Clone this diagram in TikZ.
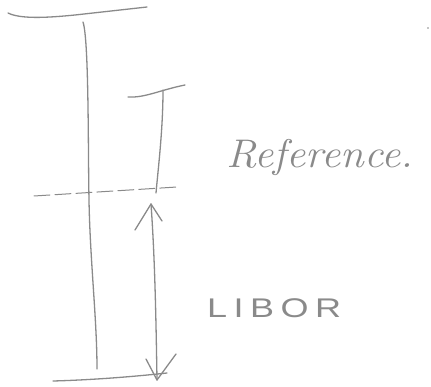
\documentclass[tikz,border=0pt]{standalone}
\usepackage{fontspec}
\newfontfamily\handsans[LetterSpace=18]{Liberation Sans}
\tikzset{
  pen/.style={draw=penink, line width=1.3pt, line cap=round, line join=round},
  faint/.style={pen, line width=1pt, dash pattern=on 16pt off 5pt},
  label/.style={text=penink, inner sep=0pt},
}
\definecolor{penink}{HTML}{8A8A8A}
\begin{document}
\begin{tikzpicture}[x=1pt,y=-1pt]
  \useasboundingbox (0,0) rectangle (431,387);

  % outer bracket: top rule, long upright, bottom rule
  \coordinate (topL) at (8,13);
  \coordinate (topR) at (147,7);
  \draw[pen] (topL) .. controls (20,19) and (45,18) .. (75,15) -- (topR);
  \coordinate (upTop) at (83,22);
  \coordinate (upMid) at (89,200);
  \coordinate (upBot) at (97,369);
  \draw[pen] (upTop) .. controls (89,40) and (88,150) .. (upMid)
                      .. controls (90,260) and (97,320) .. (upBot);
  \coordinate (botL) at (53,381);
  \coordinate (botR) at (167,373);
  \draw[pen] (botL) .. controls (90,380) and (130,377) .. (botR);

  % dashed level line
  \coordinate (dashL) at (34,196);
  \coordinate (dashR) at (177,187);
  \draw[faint] (dashL) -- (dashR);

  % reference spread bracket
  \coordinate (refL) at (128,97);
  \coordinate (refR) at (185,85);
  \draw[pen] (refL) .. controls (145,98) and (160,90) .. (refR);
  \coordinate (refTop) at (163,90);
  \coordinate (refBot) at (156,193);
  \draw[pen] (refTop) .. controls (163,130) and (158,170) .. (refBot);

  % LIBOR double arrow, drawn as strokes
  \coordinate (lTop) at (151,204);
  \coordinate (lBot) at (157,380);
  \draw[pen] (lTop) .. controls (155,260) and (156,320) .. (lBot);
  \draw[pen] (135,230) -- (lTop) -- (162,221);
  \draw[pen] (146,359) -- (lBot) -- (176,354);

  % labels
  \node[label, anchor=base west, font=\fontsize{40}{40}\selectfont\itshape, xscale=1.07]
    (reference) at (226,168) {Reference.};
  \node[label, anchor=base west, font=\handsans\fontsize{36}{36}\selectfont, yscale=0.75]
    (libor) at (207,317) {LIBOR};

  % stray pen dot
  \fill[penink] (428,28) circle (0.9pt);
\end{tikzpicture}
\end{document}
